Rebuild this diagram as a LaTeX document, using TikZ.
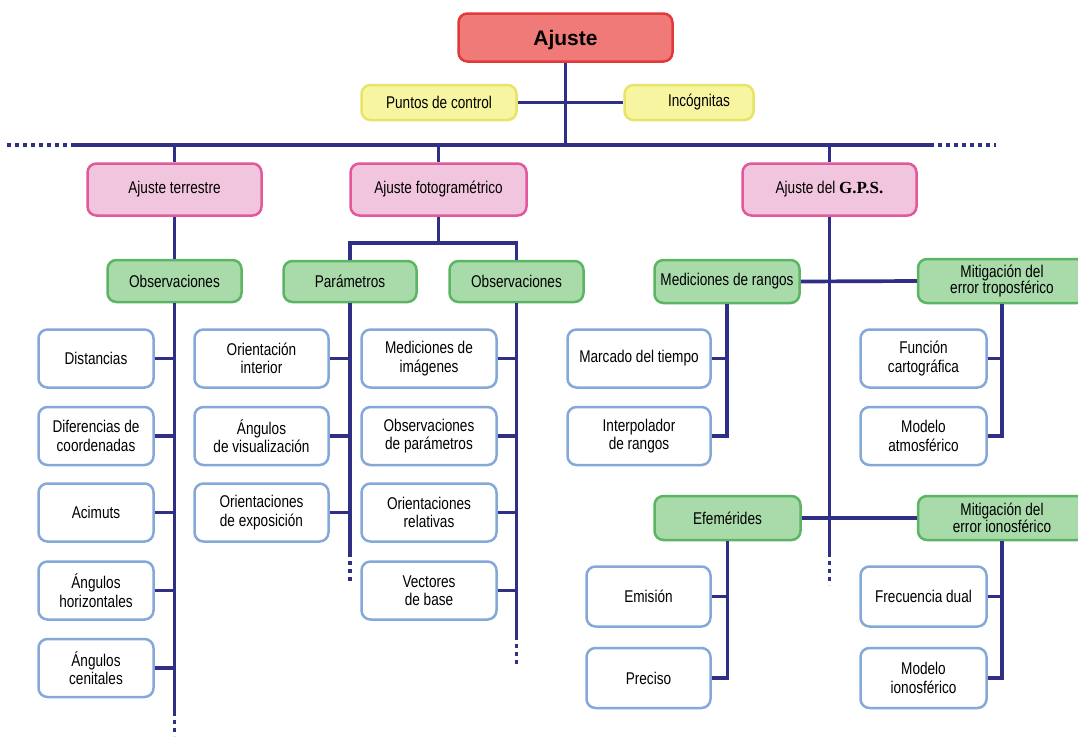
\documentclass[tikz,border=0pt]{standalone}
\usepackage{fontspec}
\setmainfont{Liberation Sans}[FakeStretch=0.8]
\newfontfamily\titlefont{Liberation Sans}
\newfontfamily\gpsfont{Liberation Serif}
\newcommand\bodyfs{\fontsize{17}{18.5}\selectfont}
\definecolor{navy}{HTML}{2E2F85}
\definecolor{leafb}{HTML}{84A9D8}
\definecolor{grnf}{HTML}{A8DAAA}
\definecolor{grnb}{HTML}{5CB562}
\definecolor{pnkf}{HTML}{F2C5DF}
\definecolor{pnkb}{HTML}{E2589B}
\definecolor{yelf}{HTML}{F8F5A0}
\definecolor{yelb}{HTML}{E8E46A}
\definecolor{redf}{HTML}{EF7A78}
\definecolor{redb}{HTML}{E23A3A}
\tikzset{
  base/.style={rounded corners=9pt, line width=2.5pt, align=center, inner sep=0pt, font=\bodyfs},
  leaf/.style={base, draw=leafb, fill=white},
  grnbox/.style={base, draw=grnb, fill=grnf},
  pnkbox/.style={base, draw=pnkb, fill=pnkf},
  yelbox/.style={base, draw=yelb, fill=yelf},
  redbox/.style={base, draw=redb, fill=redf, font=\titlefont\fontsize{21}{24}\selectfont\bfseries},
  conn/.style={draw=navy, line width=3.7pt},
  dots/.style={draw=navy, line width=3.7pt, dash pattern=on 4pt off 4pt},
}
\begin{document}
\begin{tikzpicture}[x=1pt,y=-1pt]
\useasboundingbox (0,0) rectangle (1078,736);
\fill[white] (0,0) rectangle (1078,736);
\clip (0,0) rectangle (1078,736);

% top level
\node[redbox, minimum width=214, minimum height=48, text depth=0pt] (ajuste) at (565.5,37.5) {Ajuste};
\node[yelbox, minimum width=155, minimum height=35] (puntos) at (439,102.5) {Puntos de control};
\node[yelbox, minimum width=129, minimum height=35] (incog) at (689,102.5) {\hspace*{20pt}Incógnitas};

% second level
\node[pnkbox, minimum width=174, minimum height=52] (terr) at (174.5,189.5) {Ajuste terrestre};
\node[pnkbox, minimum width=176, minimum height=52] (foto) at (438.5,189.5) {Ajuste fotogramétrico};
\node[pnkbox, minimum width=174, minimum height=52] (gps) at (829.5,189.5) {Ajuste del {\gpsfont\bfseries G.P.S.}};

% green level
\node[grnbox, minimum width=134, minimum height=42] (obsT) at (174.5,281) {Observaciones};
\node[grnbox, minimum width=133, minimum height=41] (par) at (350,281.5) {Parámetros};
\node[grnbox, minimum width=134, minimum height=41] (obsF) at (516.5,281.5) {Observaciones};
\node[grnbox, minimum width=145, minimum height=43] (medR) at (727,281.5) {Mediciones de rangos};
\node[grnbox, minimum width=168, minimum height=44] (tropo) at (1002,281) {Mitigación del\\[-2pt]error troposférico};
\node[grnbox, minimum width=146, minimum height=44] (efem) at (727.5,518) {Efemérides};
\node[grnbox, minimum width=168, minimum height=44] (iono) at (1002,518) {Mitigación del\\[-2pt]error ionosférico};

% leaves column A
\node[leaf, minimum width=115, minimum height=58] (a1) at (96,358.5) {Distancias};
\node[leaf, minimum width=115, minimum height=58] (a2) at (96,436) {Diferencias de\\coordenadas};
\node[leaf, minimum width=115, minimum height=58] (a3) at (96,512.5) {Acimuts};
\node[leaf, minimum width=115, minimum height=58] (a4) at (96,590.5) {Ángulos\\horizontales};
\node[leaf, minimum width=115, minimum height=58] (a5) at (96,668) {Ángulos\\cenitales};
% column B
\node[leaf, minimum width=134, minimum height=58] (b1) at (261.5,358.5) {Orientación\\interior};
\node[leaf, minimum width=134, minimum height=58] (b2) at (261.5,436) {Ángulos\\de visualización};
\node[leaf, minimum width=134, minimum height=58] (b3) at (261.5,512.5) {Orientaciones\\de exposición};
% column C
\node[leaf, minimum width=135, minimum height=58] (c1) at (429,358.5) {Mediciones de\\imágenes};
\node[leaf, minimum width=135, minimum height=58] (c2) at (429,436) {Observaciones\\de parámetros};
\node[leaf, minimum width=135, minimum height=58] (c3) at (429,512.5) {Orientaciones\\relativas};
\node[leaf, minimum width=135, minimum height=58] (c4) at (429,590.5) {Vectores\\de base};
% column D
\node[leaf, minimum width=143, minimum height=58] (d1) at (639,358.5) {Marcado del tiempo};
\node[leaf, minimum width=143, minimum height=58] (d2) at (639,436) {Interpolador\\de rangos};
% column E
\node[leaf, minimum width=126, minimum height=58] (e1) at (923.5,358.5) {Función\\cartográfica};
\node[leaf, minimum width=126, minimum height=58] (e2) at (923.5,436) {Modelo\\atmosférico};
% column F
\node[leaf, minimum width=124, minimum height=60] (f1) at (648.5,596.5) {Emisión};
\node[leaf, minimum width=124, minimum height=60] (f2) at (648.5,678) {Preciso};
% column G
\node[leaf, minimum width=126, minimum height=60] (g1) at (923.5,596.5) {Frecuencia dual};
\node[leaf, minimum width=126, minimum height=60] (g2) at (923.5,678) {Modelo\\ionosférico};

% free coordinates
\coordinate (hL) at (75,145);
\coordinate (hR) at (930,145);
\coordinate (hLd) at (6,145);
\coordinate (hRd) at (996,145);
\coordinate (fj) at (438.5,243);
\coordinate (tEnd) at (174.5,712);
\coordinate (tEndd) at (174.5,736);
\coordinate (pEnd) at (350,553);
\coordinate (pEndd) at (350,583);
\coordinate (oEnd) at (516.5,636);
\coordinate (oEndd) at (516.5,666);
\coordinate (gEnd) at (829.5,553);
\coordinate (gEndd) at (829.5,585);

% connectors
\draw[conn] (hL) -- (hR);
\draw[dots] (hL) -- (hLd);
\draw[dots] (hR) -- (hRd);
\draw[conn] (ajuste.south) -- (ajuste.south |- hL);
\draw[conn] (puntos.east) -- (incog.west);
\draw[conn] (terr.north) -- (terr.north |- hL);
\draw[conn] (foto.north) -- (foto.north |- hL);
\draw[conn] (gps.north) -- (gps.north |- hL);

% terrestre
\draw[conn] (terr.south) -- (obsT.north);
\draw[conn] (obsT.south) -- (tEnd);
\draw[dots] (tEnd) -- (tEndd);
\foreach \n in {a1,a2,a3,a4,a5} \draw[conn] (\n.east) -- (\n.east -| obsT.south);

% fotogrametrico
\draw[conn] (foto.south) -- (fj);
\draw[conn] (par.north) |- (fj) -| (obsF.north);
\draw[conn] (par.south) -- (pEnd);
\draw[dots] (pEnd) -- (pEndd);
\draw[conn] (obsF.south) -- (oEnd);
\draw[dots] (oEnd) -- (oEndd);
\foreach \n in {b1,b2,b3} \draw[conn] (\n.east) -- (\n.east -| par.south);
\foreach \n in {c1,c2,c3,c4} \draw[conn] (\n.east) -- (\n.east -| obsF.south);

% GPS
\draw[conn] (gps.south) -- (gEnd);
\draw[dots] (gEnd) -- (gEndd);
\draw[conn] (medR.east) -- (tropo.west);
\draw[conn] (efem.east) -- (iono.west);
\draw[conn] (medR.south) |- (d2.east);
\draw[conn] (d1.east) -- (d1.east -| medR.south);
\draw[conn] (tropo.south) |- (e2.east);
\draw[conn] (e1.east) -- (e1.east -| tropo.south);
\draw[conn] (efem.south) |- (f2.east);
\draw[conn] (f1.east) -- (f1.east -| efem.south);
\draw[conn] (iono.south) |- (g2.east);
\draw[conn] (g1.east) -- (g1.east -| iono.south);
\end{tikzpicture}
\end{document}
